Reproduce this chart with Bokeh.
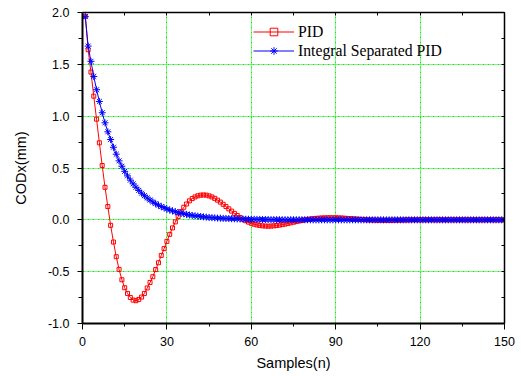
from bokeh.plotting import figure
from bokeh.models import (Range1d, LinearAxis, FixedTicker, PrintfTickFormatter,
                          Legend, LegendItem)
from bokeh.embed import file_html
from bokeh.resources import INLINE

samples = list(range(1, 151))

pid = [
    1.963, 1.641, 1.425, 1.193, 0.971, 0.743, 0.524, 0.314, 0.128, -0.053,
    -0.214, -0.356, -0.478, -0.578, -0.655, -0.710, -0.749, -0.774, -0.780, -0.768,
    -0.745, -0.710, -0.657, -0.604, -0.549, -0.480, -0.414, -0.343, -0.278, -0.208,
    -0.140, -0.078, -0.020, 0.031, 0.079, 0.121, 0.153, 0.183, 0.205, 0.221,
    0.232, 0.238, 0.240, 0.238, 0.231, 0.221, 0.207, 0.190, 0.171, 0.150,
    0.128, 0.106, 0.084, 0.062, 0.042, 0.023, 0.006, -0.009, -0.022, -0.033,
    -0.042, -0.049, -0.054, -0.058, -0.060, -0.061, -0.060, -0.058, -0.055, -0.051,
    -0.046, -0.041, -0.035, -0.029, -0.023, -0.017, -0.011, -0.006, -0.001, 0.004,
    0.008, 0.011, 0.014, 0.016, 0.018, 0.019, 0.020, 0.020, 0.020, 0.020,
    0.019, 0.018, 0.016, 0.014, 0.012, 0.010, 0.008, 0.006, 0.004, 0.002,
    0.000, -0.001, -0.002, -0.003, -0.004, -0.004, -0.005, -0.005, -0.005, -0.004,
    -0.004, -0.003, -0.003, -0.002, -0.001, -0.001, 0.000, 0.000, 0.000, 0.000,
    0.000, 0.000, 0.000, 0.000, 0.000, 0.000, 0.000, 0.000, 0.000, 0.000,
    0.000, 0.000, 0.000, 0.000, 0.000, 0.000, 0.000, 0.000, 0.000, 0.000,
    0.000, 0.000, 0.000, 0.000, 0.000, 0.000, 0.000, 0.000, 0.000, 0.000,
]

ispid = [
    1.960, 1.676, 1.529, 1.383, 1.255, 1.142, 1.033, 0.936, 0.849, 0.775,
    0.700, 0.633, 0.569, 0.517, 0.468, 0.424, 0.383, 0.347, 0.314, 0.284,
    0.257, 0.233, 0.211, 0.191, 0.173, 0.156, 0.141, 0.128, 0.116, 0.105,
    0.095, 0.086, 0.078, 0.070, 0.064, 0.058, 0.052, 0.047, 0.043, 0.039,
    0.035, 0.032, 0.029, 0.026, 0.023, 0.021, 0.019, 0.017, 0.016, 0.014,
    0.013, 0.012, 0.011, 0.010, 0.009, 0.008, 0.007, 0.006, 0.006, 0.005,
    0.005, 0.004, 0.004, 0.003, 0.003, 0.003, 0.002, 0.002, 0.002, 0.002,
    0.001, 0.001, 0.001, 0.001, 0.001, 0.001, 0.001, 0.001, 0.001, 0.001,
    0.000, 0.000, 0.000, 0.000, 0.000, 0.000, 0.000, 0.000, 0.000, 0.000,
    0.000, 0.000, 0.000, 0.000, 0.000, 0.000, 0.000, 0.000, 0.000, 0.000,
    0.000, 0.000, 0.000, 0.000, 0.000, 0.000, 0.000, 0.000, 0.000, 0.000,
    0.000, 0.000, 0.000, 0.000, 0.000, 0.000, 0.000, 0.000, 0.000, 0.000,
    0.000, 0.000, 0.000, 0.000, 0.000, 0.000, 0.000, 0.000, 0.000, 0.000,
    0.000, 0.000, 0.000, 0.000, 0.000, 0.000, 0.000, 0.000, 0.000, 0.000,
    0.000, 0.000, 0.000, 0.000, 0.000, 0.000, 0.000, 0.000, 0.000, 0.000,
]

x_ticks = [0, 30, 60, 90, 120, 150]
x_minor = [15, 45, 75, 105, 135]
x_all = [0, 15, 30, 45, 60, 75, 90, 105, 120, 135, 150]
y_ticks = [-1.0, -0.5, 0.0, 0.5, 1.0, 1.5, 2.0]
y_minor = [-0.75, -0.25, 0.25, 0.75, 1.25, 1.75]
y_all = [-1.0, -0.75, -0.5, -0.25, 0.0, 0.25, 0.5, 0.75, 1.0, 1.25, 1.5, 1.75, 2.0]
x_grid = [30, 60, 90, 120]
y_grid = [-0.5, 0.0, 0.5, 1.0, 1.5]

p = figure(width=521, height=376, output_backend="svg", toolbar_location=None,
           x_range=Range1d(0, 150), y_range=Range1d(-1, 2),
           min_border_left=82, min_border_right=17, min_border_top=12,
           min_border_bottom=53)
p.outline_line_color = None
p.background_fill_color = "white"
p.border_fill_color = "white"

tick_font = "Liberation Sans"

xa = p.xaxis[0]
xa.ticker = FixedTicker(ticks=x_ticks, minor_ticks=x_minor)
xa.axis_label = "Samples(n)"
xa.axis_label_text_font = tick_font
xa.axis_label_text_font_size = "14.5px"
xa.axis_label_text_font_style = "normal"
xa.axis_label_text_color = "black"
xa.axis_label_standoff = 6
xa.major_label_text_font = tick_font
xa.major_label_text_font_size = "12.5px"
xa.major_label_text_color = "black"
xa.major_label_standoff = 7
xa.major_tick_out = 6
xa.major_tick_in = 0
xa.minor_tick_out = 3
xa.minor_tick_in = 0
xa.axis_line_width = 2
xa.axis_line_color = "black"
xa.major_tick_line_color = "black"
xa.minor_tick_line_color = "black"

ya = p.yaxis[0]
ya.ticker = FixedTicker(ticks=y_ticks, minor_ticks=y_minor)
ya.formatter = PrintfTickFormatter(format="%.1f")
ya.axis_label = "CODx(mm)"
ya.axis_label_text_font = tick_font
ya.axis_label_text_font_size = "14.5px"
ya.axis_label_text_font_style = "normal"
ya.axis_label_text_color = "black"
ya.axis_label_standoff = 16
ya.major_label_text_font = tick_font
ya.major_label_text_font_size = "12.5px"
ya.major_label_text_color = "black"
ya.major_label_standoff = 8
ya.major_tick_out = 5
ya.major_tick_in = 0
ya.minor_tick_out = 4
ya.minor_tick_in = 0
ya.axis_line_width = 2
ya.axis_line_color = "black"
ya.major_tick_line_color = "black"
ya.minor_tick_line_color = "black"

top = LinearAxis(ticker=FixedTicker(ticks=x_all, minor_ticks=[]),
                 major_label_text_font_size="0px", major_label_text_color=None,
                 major_label_standoff=0,
                 major_tick_out=0, major_tick_in=3, minor_tick_out=0, minor_tick_in=0,
                 axis_line_width=1.5, axis_line_color="black",
                 major_tick_line_color="black")
p.add_layout(top, "above")
right = LinearAxis(ticker=FixedTicker(ticks=y_all, minor_ticks=[]),
                   major_label_text_font_size="0px", major_label_text_color=None,
                   major_label_standoff=0,
                   major_tick_out=0, major_tick_in=3, minor_tick_out=0, minor_tick_in=0,
                   axis_line_width=1.5, axis_line_color="black",
                   major_tick_line_color="black")
p.add_layout(right, "right")

p.xgrid.ticker = FixedTicker(ticks=x_grid)
p.ygrid.ticker = FixedTicker(ticks=y_grid)
for g in (p.xgrid, p.ygrid):
    g.grid_line_color = "#00ee00"
    g.grid_line_dash = "2 1 1 1"
    g.grid_line_width = 1

r1 = p.line(samples, pid, line_color="red", line_width=1)
s1 = p.scatter(samples, pid, marker="square", size=4, line_color="red",
               fill_color=None, line_width=1)
r2 = p.line(samples, ispid, line_color="blue", line_width=1)
s2 = p.scatter(samples, ispid, marker="asterisk", size=7, line_color="blue",
               line_width=1)

legend = Legend(items=[LegendItem(label="PID", renderers=[r1, s1]),
                       LegendItem(label="Integral Separated PID", renderers=[r2, s2])],
                location=(171, 263))
legend.label_text_font = "Liberation Serif"
legend.label_text_font_size = "15.7px"
legend.label_text_color = "black"
legend.glyph_width = 41
legend.glyph_height = 19
legend.label_height = 19
legend.label_standoff = 4
legend.spacing = 0
legend.padding = 0
legend.margin = 0
legend.border_line_color = None
legend.background_fill_alpha = 0
p.add_layout(legend)

open("out.html", "w").write(file_html(p, INLINE))
